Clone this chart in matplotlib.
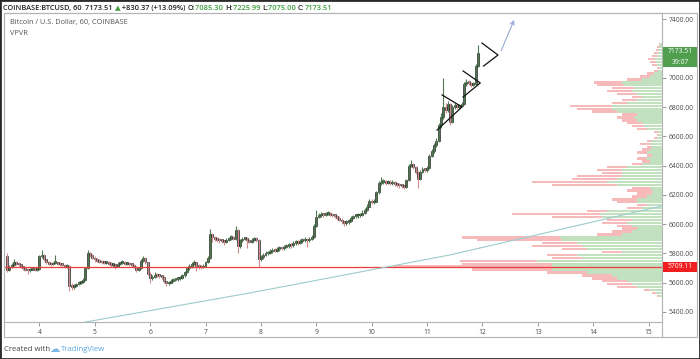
import matplotlib
matplotlib.use('Agg')
import matplotlib.pyplot as plt
import matplotlib.transforms as mtrans
import numpy as np
from matplotlib.patches import Rectangle

plt.rcParams['font.family'] = ['Open Sans', 'DejaVu Sans']

# hourly BTCUSD candles, first one at day 3 10:00
first_open = 5785
close = [5690, 5705, 5720, 5740, 5730, 5725, 5710, 5700, 5690, 5685,
         5690, 5700, 5690, 5695, 5780, 5790, 5760, 5740, 5730, 5725,
         5735, 5740, 5730, 5725, 5720, 5710, 5715, 5580, 5570, 5580,
         5590, 5600, 5605, 5620, 5700, 5800, 5790, 5770, 5760, 5750,
         5745, 5740, 5735, 5740, 5730, 5720, 5725, 5710, 5730, 5735,
         5740, 5730, 5735, 5725, 5720, 5710, 5690, 5700, 5750, 5770,
         5740, 5660, 5630, 5640, 5655, 5650, 5645, 5640, 5610, 5595,
         5600, 5615, 5620, 5625, 5630, 5630, 5650, 5670, 5700, 5710,
         5730, 5740, 5715, 5710, 5705, 5715, 5740, 5770, 5930, 5915,
         5900, 5895, 5890, 5885, 5880, 5895, 5905, 5910, 5900, 5960,
         5850, 5890, 5900, 5905, 5890, 5880, 5895, 5900, 5895, 5760,
         5775, 5790, 5800, 5805, 5815, 5825, 5820, 5830, 5840, 5835,
         5845, 5850, 5860, 5855, 5870, 5880, 5875, 5885, 5890, 5895,
         5890, 5900, 5910, 5990, 6050, 6060, 6070, 6065, 6070, 6075,
         6065, 6060, 6055, 6045, 6030, 6020, 6010, 6015, 6020, 6045,
         6055, 6060, 6060, 6065, 6080, 6100, 6120, 6160, 6150, 6155,
         6220, 6280, 6290, 6295, 6285, 6290, 6280, 6285, 6275, 6270,
         6265, 6260, 6255, 6300, 6400, 6415, 6390, 6360, 6310, 6360,
         6375, 6370, 6385, 6470, 6500, 6540, 6570, 6680, 6730, 6800,
         6780, 6820, 6700, 6800, 6815, 6800, 6810, 6820, 6960, 6975,
         6965, 6955, 6960, 7085.30, 7173.51]
high = [5800, 5720, 5735, 5760, 5750, 5740, 5730, 5715, 5705, 5700,
        5700, 5710, 5705, 5705, 5790, 5825, 5795, 5765, 5750, 5740,
        5745, 5790, 5745, 5740, 5735, 5730, 5725, 5720, 5595, 5590,
        5600, 5610, 5615, 5630, 5710, 5825, 5810, 5795, 5780, 5770,
        5760, 5755, 5750, 5750, 5750, 5740, 5735, 5730, 5740, 5745,
        5755, 5750, 5745, 5740, 5735, 5730, 5715, 5710, 5760, 5785,
        5775, 5745, 5670, 5655, 5670, 5665, 5660, 5655, 5645, 5615,
        5610, 5625, 5635, 5635, 5640, 5645, 5660, 5680, 5710, 5725,
        5745, 5755, 5745, 5725, 5720, 5725, 5750, 5780, 5965, 5940,
        5920, 5910, 5905, 5900, 5895, 5905, 5915, 5925, 5920, 5985,
        5965, 5900, 5915, 5915, 5910, 5900, 5905, 5915, 5910, 5900,
        5790, 5800, 5815, 5815, 5830, 5840, 5835, 5845, 5850, 5850,
        5860, 5865, 5875, 5870, 5885, 5895, 5890, 5900, 5905, 5910,
        5905, 5915, 5925, 6000, 6095, 6080, 6085, 6080, 6085, 6090,
        6085, 6075, 6070, 6060, 6055, 6040, 6025, 6030, 6035, 6055,
        6065, 6070, 6075, 6080, 6095, 6110, 6135, 6175, 6170, 6170,
        6230, 6295, 6320, 6310, 6305, 6305, 6300, 6300, 6295, 6285,
        6285, 6275, 6270, 6310, 6410, 6440, 6420, 6395, 6365, 6370,
        6390, 6385, 6395, 6480, 6515, 6555, 6590, 6695, 6760, 7000,
        6830, 6840, 6830, 6815, 6830, 6825, 6825, 6835, 6975, 6990,
        6985, 6975, 6975, 7095, 7225.99]
low = [5670, 5680, 5700, 5715, 5720, 5715, 5700, 5690, 5680, 5660,
       5675, 5685, 5680, 5680, 5690, 5770, 5750, 5730, 5720, 5715,
       5720, 5730, 5720, 5715, 5705, 5700, 5700, 5545, 5550, 5560,
       5570, 5585, 5590, 5595, 5615, 5695, 5775, 5760, 5745, 5740,
       5735, 5730, 5725, 5725, 5720, 5710, 5705, 5695, 5705, 5720,
       5725, 5720, 5720, 5715, 5710, 5700, 5670, 5680, 5695, 5740,
       5730, 5650, 5600, 5620, 5630, 5640, 5635, 5625, 5600, 5580,
       5585, 5595, 5605, 5610, 5615, 5620, 5625, 5640, 5665, 5690,
       5700, 5720, 5680, 5695, 5695, 5700, 5710, 5735, 5765, 5880,
       5885, 5880, 5875, 5870, 5860, 5875, 5885, 5895, 5890, 5895,
       5800, 5840, 5880, 5890, 5840, 5870, 5870, 5885, 5880, 5710,
       5750, 5765, 5780, 5790, 5795, 5805, 5810, 5810, 5820, 5825,
       5825, 5835, 5840, 5840, 5845, 5860, 5860, 5865, 5875, 5880,
       5845, 5880, 5890, 5905, 5980, 6040, 6050, 6050, 6055, 6060,
       6055, 6050, 6040, 6030, 6020, 6005, 5990, 5995, 6005, 6015,
       6035, 6045, 6045, 6050, 6055, 6070, 6090, 6115, 6135, 6140,
       6150, 6210, 6270, 6275, 6270, 6275, 6265, 6270, 6260, 6255,
       6250, 6245, 6240, 6245, 6295, 6390, 6375, 6345, 6245, 6300,
       6350, 6355, 6360, 6380, 6460, 6490, 6530, 6560, 6660, 6720,
       6760, 6770, 6680, 6690, 6790, 6785, 6790, 6800, 6815, 6945,
       6950, 6940, 6945, 6950, 7075]

# visible range volume profile, 20 USD rows from 5500 up
vp_bottom = 5500
vp_row = 20
vp_up = [3, 6, 12, 25, 30, 35, 45, 50, 75, 110,
         110, 110, 125, 80, 85, 40, 75, 80, 85, 100,
         102, 40, 30, 25, 30, 35, 30, 60, 62, 55,
         20, 15, 25, 25, 15, 10, 10, 12, 45, 55,
         45, 40, 40, 40, 35, 20, 12, 15, 10, 15,
         12, 10, 12, 10, 5, 3, 4, 15, 18, 20,
         25, 28, 25, 45, 50, 50, 35, 25, 20, 25,
         30, 28, 38, 40, 20, 12, 8, 4, 3, 5,
         6, 7, 5, 4, 3, 3, 2]
vp_total = [5, 10, 18, 45, 55, 60, 70, 80, 115, 190,
            269, 200, 202, 110, 115, 60, 100, 130, 120, 185,
            200, 65, 50, 40, 45, 60, 55, 110, 150, 75,
            35, 25, 45, 50, 30, 25, 35, 30, 110, 130,
            90, 85, 60, 65, 55, 30, 20, 25, 15, 25,
            20, 15, 22, 15, 8, 5, 8, 25, 30, 35,
            40, 45, 40, 70, 85, 92, 50, 40, 30, 45,
            55, 50, 65, 68, 35, 22, 15, 8, 5, 10,
            12, 14, 10, 8, 6, 5, 3]
poc = 5709.11

last_price = 7173.51
countdown = "39:07"

# price scale ticks; 7200 sits under the last-price tag, so no text there
price_ticks = list(range(5400, 7401, 200))
price_tick_labels = ['%.2f' % v if v != 7200 else '' for v in price_ticks]
day_ticks = list(range(4, 16))

# drawings (day, price)
trend_x = [4.83, 7.80, 11.41, 15.24]
trend_y = [5331, 5530, 5790, 6125]
tri1 = [(11.27, 6884), (11.63, 6802), (11.18, 6644)]
tri2 = [(11.65, 7048), (11.96, 6966), (11.65, 6870)]
chevron = [(11.99, 7239), (12.28, 7157), (12.02, 7082)]
arrow_from = (12.32, 7171)
arrow_to = (12.59, 7415)

W, H = 700, 359
fig = plt.figure(figsize=(W / 100, H / 100), dpi=100)


def fx(x):
    return x / W


def fy(y):
    return 1 - y / H


grid_col = '#b3b3b3'
txt_col = '#4a4a4a'
ymin, ymax = 5331.5, 7444.4
px_price = (ymax - ymin) / 309  # price units per pixel

ax2 = fig.add_axes([fx(4), fy(322), fx(658), 309 / H])
ax = fig.add_axes([fx(4), fy(322), fx(658), 309 / H])
ax.set_zorder(ax2.get_zorder() + 1)
ax.patch.set_visible(False)

# volume profile
vp_up = np.array(vp_up, dtype=float)
vp_total = np.array(vp_total, dtype=float)
vp_mid = vp_bottom + vp_row * (np.arange(len(vp_up)) + 0.5)
ax2.barh(vp_mid, vp_up, height=vp_row * 0.8, color='#c2e2bf', linewidth=0)
ax2.barh(vp_mid, vp_total - vp_up, left=vp_up, height=vp_row * 0.8,
         color='#f6baba', linewidth=0)
ax2.set_xlim(vp_total.max() / 0.409, 0)
ax2.set_ylim(ymin, ymax)
ax2.axis('off')

# candles
n = len(close)
t = 3 + 10 / 24 + np.arange(n) / 24
opn = np.array([first_open] + close[:-1], dtype=float)
opn[-1] = 7085.30
cls = np.array(close, dtype=float)
hi = np.array(high, dtype=float)
lo = np.array(low, dtype=float)
up = cls >= opn
ax.vlines(t[up], lo[up], hi[up], color='#4f7a4f', lw=0.8)
ax.vlines(t[~up], lo[~up], hi[~up], color='#d08c8c', lw=0.8)
body = np.maximum(np.abs(cls - opn), 12)
bot = np.minimum(opn, cls)
ax.bar(t[up], body[up], bottom=bot[up], width=0.85 / 24, color='#1c281c',
       edgecolor='#1c281c', linewidth=0.4)
ax.bar(t[~up], body[~up], bottom=bot[~up], width=0.85 / 24, color='#2b2626',
       edgecolor='#2b2626', linewidth=0.4)

ax.axhline(poc, color='#ee3b3b', lw=0.9)
ax.plot(trend_x, trend_y, color='#9ccccc', lw=0.8)

for shape in (tri1, tri2, chevron):
    ax.plot([p[0] for p in shape], [p[1] for p in shape],
            color='#111111', lw=0.9)
ax.annotate('', xy=arrow_to, xytext=arrow_from,
            arrowprops=dict(arrowstyle='->', color='#95aad6', lw=0.8,
                            mutation_scale=7))

ax.set_xlim(3.3628, 15.2401)
ax.set_ylim(ymin, ymax)
ax.yaxis.tick_right()
ax.set_yticks(price_ticks)
ax.set_yticklabels(price_tick_labels)
ax.set_xticks(day_ticks)
ax.tick_params(axis='both', length=3, width=0.6, color='#888888',
               labelsize=4.9, labelcolor=txt_col, pad=2)
for s in ax.spines.values():
    s.set_color(grid_col)
    s.set_linewidth(0.8)

# right-hand price labels (box centre in px offset from its price)
bt = mtrans.blended_transform_factory(fig.transFigure, ax.transData)
labels = [(last_price, '%.2f' % last_price, '#4f9f4f', 1),
          (last_price, countdown, '#4f9f4f', -9.5),
          (poc, '%.2f' % poc, '#f01e1e', 0)]
for price, s, col, off in labels:
    yc = price + off * px_price
    ax.add_patch(Rectangle((fx(663), yc - 5 * px_price), fx(34),
                           10 * px_price, transform=bt, fc=col, ec='none',
                           clip_on=False, zorder=6))
    ax.text(fx(680), yc, s, transform=bt, fontsize=4.9, color='white',
            va='center', ha='center', zorder=7, clip_on=False)

# panel frame
fig.patches.append(Rectangle((fx(4), fy(337)), fx(693), 324 / H,
                             transform=fig.transFigure, fill=False,
                             ec=grid_col, lw=0.8))
fig.add_artist(plt.Line2D([fx(662), fx(662)], [fy(337), fy(322)],
                          transform=fig.transFigure, color=grid_col, lw=0.8))
fig.patches.append(Rectangle((0, 0), 1, 1, transform=fig.transFigure,
                             fill=False, ec='#2a2a2a', lw=2))

# header line, pieces chained left to right
green = '#3f9f3f'
dark = '#222222'
parts = [('COINBASE:BTCUSD, 60  ', dark), ('7173.51 ', dark),
         ('\u25b2', green), (' +830.37 (+13.09%) ', dark),
         ('O:', dark), ('7085.30 ', green), ('H:', dark),
         ('7225.99 ', green), ('L:', dark), ('7075.00 ', green),
         ('C:', dark), ('7173.51', green)]
prev = fig.text(fx(3), fy(12), parts[0][0], color=parts[0][1], fontsize=5.35,
                weight='semibold', va='bottom')
for s, c in parts[1:]:
    prev = ax.annotate(s, xy=(1, 0), xycoords=prev, color=c, fontsize=5.35,
                       weight='semibold', va='bottom', ha='left')

fig.text(fx(10), fy(24), 'Bitcoin / U.S. Dollar, 60, COINBASE', color='#555555',
         fontsize=5.3)
fig.text(fx(10), fy(35), 'VPVR', color='#555555', fontsize=5.3)

fig.text(fx(4), fy(351), 'Created with', color='#444444', fontsize=5.6)
fig.text(fx(49), fy(352), '\u2601', color='#7cb9e6', fontsize=7.5,
         family=['DejaVu Sans'])
fig.text(fx(61), fy(351), 'TradingView', color='#5aa6e0', fontsize=5.6)

fig.savefig('out.png', dpi=100)
